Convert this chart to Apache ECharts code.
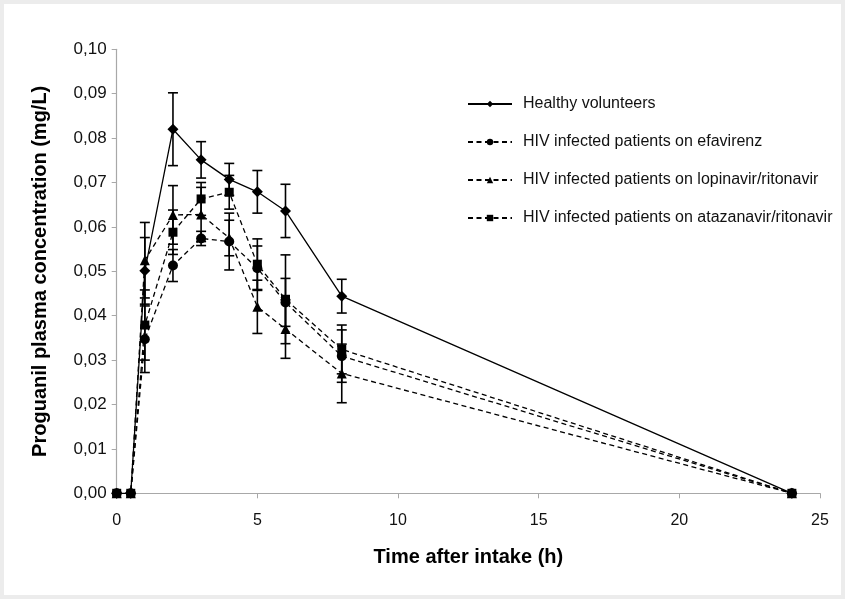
<!DOCTYPE html>
<html>
<head>
<meta charset="utf-8">
<script src="https://cdn.jsdelivr.net/npm/echarts@6/dist/echarts.min.js"></script>
<style>
html,body{margin:0;padding:0;background:#ececec;}
#wrap{position:relative;width:845px;height:599px;background:#ececec;overflow:hidden;}
#chart{position:absolute;left:4px;top:4px;width:837px;height:591px;background:#fff;}
</style>
</head>
<body>
<div id="wrap"><div id="chart"></div></div>
<script>
// Time points (h)
var times = [0, 0.5, 1, 2, 3, 4, 5, 6, 8, 24];
// Series names
var seriesNames = [
  'Healthy volunteers',
  'HIV infected patients on efavirenz',
  'HIV infected patients on lopinavir/ritonavir',
  'HIV infected patients on atazanavir/ritonavir'
];
// Mean concentrations (mg/L)
var healthy    = [0, 0, 0.0501, 0.0820, 0.0751, 0.0707, 0.0679, 0.0636, 0.0444, 0];
var efavirenz  = [0, 0, 0.0347, 0.0513, 0.0574, 0.0567, 0.0507, 0.0430, 0.0309, 0];
var lopinavir  = [0, 0, 0.0525, 0.0627, 0.0628, 0.0575, 0.0420, 0.0370, 0.0270, 0];
var atazanavir = [0, 0, 0.0379, 0.0588, 0.0663, 0.0678, 0.0516, 0.0437, 0.0324, 0];
// Error bar half-lengths (mg/L)
var healthyErr    = [0, 0, 0.0075, 0.0082, 0.0041, 0.0036, 0.0048, 0.0060, 0.0038, 0];
var efavirenzErr  = [0, 0, 0.0075, 0.0036, 0.0016, 0.0064, 0.0050, 0.0054, 0.0059, 0];
var lopinavirErr  = [0, 0, 0.0085, 0.0066, 0.0061, 0.0040, 0.0060, 0.0066, 0.0066, 0];
var atazanavirErr = [0, 0, 0.0079, 0.0050, 0.0037, 0.0038, 0.0057, 0.0100, 0.0055, 0];
// Axis ticks
var yTicks = [0, 0.01, 0.02, 0.03, 0.04, 0.05, 0.06, 0.07, 0.08, 0.09, 0.10];
var xTicks = [0, 5, 10, 15, 20, 25];

var FONT = 'Liberation Sans, Arial, Helvetica, sans-serif';
var values = [healthy, efavirenz, lopinavir, atazanavir];
var errs = [healthyErr, efavirenzErr, lopinavirErr, atazanavirErr];
var symbols = ['diamond', 'circle', 'triangle', 'rect'];
var symSizes = [11, 10, 10, 9];

function pts(v) { return times.map(function (t, i) { return [t, v[i]]; }); }
function errPts(v, e) {
  var out = [];
  times.forEach(function (t, i) { if (e[i] > 0) out.push([t, v[i], e[i]]); });
  return out;
}

var series = [];
values.forEach(function (v, k) {
  series.push({
    type: 'custom',
    name: 'err' + k,
    silent: true,
    z: 1,
    data: errPts(v, errs[k]),
    renderItem: function (params, api) {
      var x = api.value(0), y = api.value(1), e = api.value(2);
      var top = api.coord([x, y + e]);
      var bot = api.coord([x, y - e]);
      var hw = 5;
      var st = { stroke: '#000', lineWidth: 1.6 };
      return {
        type: 'group',
        children: [
          { type: 'line', shape: { x1: top[0], y1: top[1], x2: bot[0], y2: bot[1] }, style: st },
          { type: 'line', shape: { x1: top[0] - hw, y1: top[1], x2: top[0] + hw, y2: top[1] }, style: st },
          { type: 'line', shape: { x1: bot[0] - hw, y1: bot[1], x2: bot[0] + hw, y2: bot[1] }, style: st }
        ]
      };
    }
  });
});
values.forEach(function (v, k) {
  series.push({
    type: 'line',
    name: seriesNames[k],
    data: pts(v),
    z: 3 + k,
    symbol: symbols[k],
    symbolSize: symSizes[k],
    showAllSymbol: true,
    lineStyle: { color: '#000', width: 1.3, type: k === 0 ? 'solid' : [5, 3.5] },
    itemStyle: { color: '#000', borderWidth: 0 },
    emphasis: { disabled: true },
    animation: false
  });
});

var chart = echarts.init(document.getElementById('chart'));
chart.setOption({
  animation: false,
  backgroundColor: '#ffffff',
  textStyle: { fontFamily: FONT },
  grid: { left: 112.7, top: 45.3, right: 21, bottom: 101.7, containLabel: false },
  legend: {
    data: seriesNames,
    orient: 'vertical',
    left: 458,
    top: 87,
    itemWidth: 44,
    itemHeight: 8,
    itemGap: 22,
    textStyle: { fontSize: 16, color: '#111', fontFamily: FONT, padding: [0, 0, 0, 6] },
    selectedMode: false
  },
  xAxis: {
    type: 'value',
    min: xTicks[0],
    max: xTicks[xTicks.length - 1],
    interval: 5,
    name: 'Time after intake (h)',
    nameLocation: 'middle',
    nameGap: 54,
    nameTextStyle: { fontSize: 20, fontWeight: 'bold', color: '#000', fontFamily: FONT },
    axisLine: { lineStyle: { color: '#a8a8a8', width: 1.2 } },
    axisTick: { show: true, length: 5, lineStyle: { color: '#a8a8a8' } },
    axisLabel: { fontSize: 16, color: '#111', margin: 19, fontFamily: FONT },
    splitLine: { show: false }
  },
  yAxis: {
    type: 'value',
    min: yTicks[0],
    max: yTicks[yTicks.length - 1],
    interval: 0.01,
    name: 'Proguanil plasma concentration (mg/L)',
    nameLocation: 'middle',
    nameGap: 66,
    nameTextStyle: { fontSize: 20, fontWeight: 'bold', color: '#000', fontFamily: FONT },
    axisLine: { show: true, lineStyle: { color: '#a8a8a8', width: 1.2 } },
    axisTick: { show: true, length: 5, lineStyle: { color: '#a8a8a8' } },
    axisLabel: {
      fontSize: 17, color: '#111', margin: 10, fontFamily: FONT,
      formatter: function (v) { return v.toFixed(2).replace('.', ','); }
    },
    splitLine: { show: false }
  },
  series: series
});
</script>
</body>
</html>
